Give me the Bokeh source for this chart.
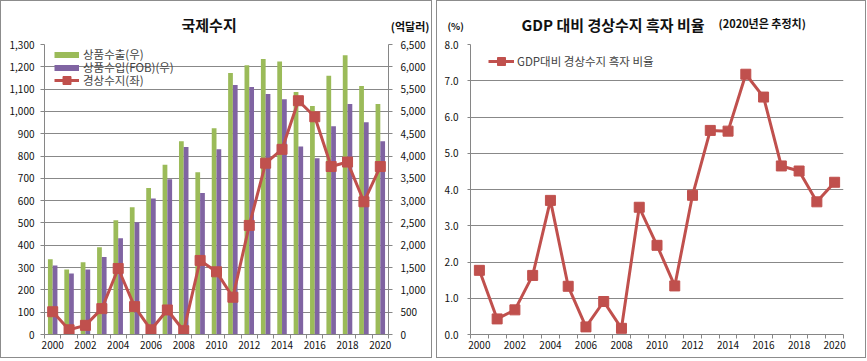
import math
from bokeh.plotting import figure
from bokeh.models import (ColumnDataSource, Range1d, LinearAxis, FixedTicker,
                          NumeralTickFormatter, Legend, LegendItem, Title)
from bokeh.transform import dodge
from bokeh.layouts import row
from bokeh.embed import file_html
from bokeh.resources import INLINE

years = list(range(2000, 2021))
exports = [1684, 1459, 1617, 1955, 2560, 2850, 3285, 3805, 4330, 3635, 4625,
           5860, 6035, 6175, 6120, 5435, 5120, 5800, 6260, 5570, 5165]
imports = [1549, 1368, 1459, 1737, 2160, 2515, 3050, 3480, 4200, 3170, 4150,
           5590, 5550, 5390, 5275, 4215, 3950, 4670, 5165, 4760, 4330]
current_account = [102, 21, 41, 116, 296, 125, 21, 110, 17, 332, 281,
                   167, 489, 768, 830, 1048, 976, 753, 773, 595, 753]
gdp_ratio = [1.77, 0.43, 0.68, 1.63, 3.70, 1.33, 0.21, 0.91, 0.17, 3.51, 2.46,
             1.34, 3.84, 5.63, 5.61, 7.18, 6.55, 4.65, 4.51, 3.66, 4.20]
even_years = list(range(2000, 2021, 2))
left_ticks = list(range(0, 1301, 100))
right_ticks = list(range(0, 6501, 500))
pct_ticks = [0, 1, 2, 3, 4, 5, 6, 7, 8]

GREEN = "#9BBB59"
PURPLE = "#8064A2"
RED = "#C0504D"
GRID = "#888888"
AXIS = "#868686"
FONT = "Noto Sans CJK KR"
BORDER = {"border": "1px solid #8c8c8c", "box-sizing": "border-box"}

src = ColumnDataSource(dict(year=years, exports=exports, imports=imports,
                            ca=current_account, ratio=gdp_ratio))

def style_axis(ax):
    ax.axis_line_color = AXIS
    ax.major_tick_line_color = AXIS
    ax.minor_tick_line_color = AXIS
    ax.major_label_text_font = FONT
    ax.major_label_text_font_size = "10px"
    ax.major_label_text_color = "#111111"
    ax.major_tick_in = 0
    ax.minor_tick_in = 0

def x_axis_setup(p):
    xa = p.xaxis[0]
    xa.ticker = FixedTicker(ticks=even_years,
                            minor_ticks=[y - 0.5 for y in years] + [years[-1] + 0.5])
    style_axis(xa)
    xa.major_tick_out = 0
    xa.minor_tick_out = 4
    xa.major_label_standoff = 2

def ttl(text, size, offset, standoff, align="left"):
    return Title(text=text, align=align, offset=offset, standoff=standoff,
                 text_font=FONT, text_font_size=size, text_font_style="bold",
                 text_color="#111111")

def one_legend(label, renderers, x, y, gh=13, gw=25, standoff=4):
    return Legend(items=[LegendItem(label=label, renderers=renderers)],
                  location=(x, y), glyph_width=gw, glyph_height=gh, label_height=13,
                  spacing=0, padding=0, margin=0, border_line_color=None,
                  background_fill_alpha=0, label_text_font=FONT,
                  label_text_font_size="11.5px", label_standoff=standoff)

# ---------------- left chart ----------------
p1 = figure(width=432, height=358, output_backend="svg", toolbar_location=None,
            x_range=Range1d(1999.5, 2020.5), y_range=Range1d(0, 1300),
            min_border_left=43, min_border_right=45, min_border_top=43,
            min_border_bottom=25, background_fill_color="white",
            border_fill_color="white", outline_line_color=None, styles=BORDER)
p1.extra_y_ranges = {"right": Range1d(0, 6500)}
p1.xgrid.grid_line_color = None
p1.ygrid.grid_line_color = GRID
p1.yaxis[0].ticker = FixedTicker(ticks=left_ticks)
p1.yaxis[0].formatter = NumeralTickFormatter(format="0,0")
style_axis(p1.yaxis[0])
p1.yaxis[0].major_tick_out = 4
p1.yaxis[0].major_label_standoff = 6
x_axis_setup(p1)

ra = LinearAxis(y_range_name="right", ticker=FixedTicker(ticks=right_ticks),
                formatter=NumeralTickFormatter(format="0,0"))
style_axis(ra)
ra.major_tick_out = 4
ra.major_label_standoff = 8
p1.add_layout(ra, "right")

p1.add_layout(ttl("국제수지", "15px", 137, 19), "above")
p1.add_layout(ttl("(억달러)", "11px", -41, -63, align="right"), "above")

p1.vbar(x=dodge("year", -0.145, range=p1.x_range), top="exports", width=0.29,
        source=src, y_range_name="right", fill_color=GREEN, line_color=None)
p1.vbar(x=dodge("year", 0.145, range=p1.x_range), top="imports", width=0.29,
        source=src, y_range_name="right", fill_color=PURPLE, line_color=None)
p1.line("year", "ca", source=src, line_color=RED, line_width=3)
p1.scatter("year", "ca", source=src, marker="square", size=10,
           fill_color=RED, line_color=RED)

dummy = ColumnDataSource(dict(x=[math.nan], y=[math.nan]))
lg_g = p1.line("x", "y", source=dummy, line_color=GREEN, line_width=6)
lg_p = p1.line("x", "y", source=dummy, line_color=PURPLE, line_width=6)
lg_l = p1.line("x", "y", source=dummy, line_color=RED, line_width=3)
lg_m = p1.scatter("x", "y", source=dummy, marker="square", fill_color=RED, line_color=RED)
p1.add_layout(one_legend("상품수출(우)", [lg_g], 10, 272), "center")
p1.add_layout(one_legend("상품수입(FOB)(우)", [lg_p], 10, 259), "center")
p1.add_layout(one_legend("경상수지(좌)", [lg_l, lg_m], 10, 244, gh=20), "center")

# ---------------- right chart ----------------
p2 = figure(width=430, height=358, output_backend="svg", toolbar_location=None,
            x_range=Range1d(1999.5, 2020.5), y_range=Range1d(0, 8),
            min_border_left=33, min_border_right=24, min_border_top=43,
            min_border_bottom=25, background_fill_color="white",
            border_fill_color="white", outline_line_color=None, styles=BORDER)
p2.xgrid.grid_line_color = None
p2.ygrid.grid_line_color = GRID
p2.yaxis[0].ticker = FixedTicker(ticks=pct_ticks)
p2.yaxis[0].formatter = NumeralTickFormatter(format="0.0")
style_axis(p2.yaxis[0])
p2.yaxis[0].major_tick_out = 3
p2.yaxis[0].major_label_standoff = 9
x_axis_setup(p2)

p2.add_layout(ttl("GDP 대비 경상수지 흑자 비율", "15px", 51, 19), "above")
p2.add_layout(ttl("(%)", "9.5px", -23, -61), "above")
p2.add_layout(ttl("(2020년은 추정치)", "11px", 248, -57), "above")

r_l = p2.line("year", "ratio", source=src, line_color=RED, line_width=3)
r_m = p2.scatter("year", "ratio", source=src, marker="square", size=10,
                 fill_color=RED, line_color=RED)
p2.add_layout(one_legend("GDP대비 경상수지 흑자 비율", [r_l, r_m], 18, 263,
                         gh=20, gw=26, standoff=3), "center")

layout = row(p1, p2, spacing=4)
open("out.html", "w").write(file_html(layout, INLINE))
